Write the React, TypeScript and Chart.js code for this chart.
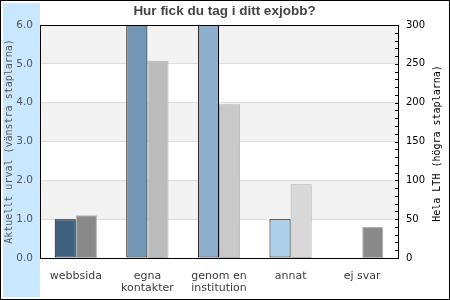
import React, { useEffect, useRef } from 'react';
import { Chart, registerables } from 'chart.js';

Chart.register(...registerables);

const chartTitle = 'Hur fick du tag i ditt exjobb?';
const categories: (string | string[])[] = ['webbsida', ['egna', 'kontakter'], ['genom en', 'institution'], 'annat', 'ej svar'];
const currentValues = [1, 8, 7, 1, 0];
const lthValues = [55, 254, 198, 95, 40];
const currentColors = ['#406080', '#7396b4', '#8fb0cc', '#aecfea', '#aecfea'];
const lthColors = ['#898989', '#bcbcbc', '#c9c9c9', '#d8d8d8', '#898989'];
const leftTitle = 'Aktuellt urval (vänstra staplarna)';
const rightTitle = 'Hela LTH (högra staplarna)';
const leftMax = 6;
const rightMax = 300;
const rightStep = 50;
const rightMinorStep = 10;

const framePlugin = {
  id: 'frame',
  beforeDraw(chart: any) {
    const { ctx, chartArea, scales } = chart;
    const W = chart.width;
    const H = chart.height;
    ctx.save();
    ctx.fillStyle = '#ffffff';
    ctx.fillRect(0, 0, W, H);
    ctx.fillStyle = '#c9e7ff';
    ctx.fillRect(3, 3, chartArea.left - 3, H - 6);
    const y = scales.y;
    ctx.fillStyle = '#f2f2f2';
    for (let v = 1; v < leftMax; v += 2) {
      const top = Math.round(y.getPixelForValue(v + 1));
      const bot = Math.round(y.getPixelForValue(v));
      ctx.fillRect(chartArea.left, top, chartArea.right - chartArea.left, bot - top);
    }
    ctx.strokeStyle = '#000';
    ctx.lineWidth = 1;
    ctx.strokeRect(0.5, 0.5, W - 1, H - 1);
    ctx.restore();
  },
  afterDraw(chart: any) {
    const { ctx, chartArea, scales } = chart;
    ctx.save();
    ctx.strokeStyle = '#000';
    ctx.lineWidth = 1;
    const t = Math.round(chartArea.top) + 0.5;
    ctx.beginPath();
    ctx.moveTo(chartArea.left, t);
    ctx.lineTo(chartArea.right, t);
    const r = scales.y1;
    const x = Math.round(chartArea.right);
    for (let v = 0; v <= rightMax; v += rightMinorStep) {
      const py = Math.round(r.getPixelForValue(v)) + 0.5;
      ctx.moveTo(x - 3, py);
      ctx.lineTo(x, py);
    }
    ctx.stroke();
    // right axis title, reading bottom-to-top
    ctx.translate(r.right - 9, (chartArea.top + chartArea.bottom) / 2 + 2);
    ctx.rotate(-Math.PI / 2);
    ctx.fillStyle = '#000';
    ctx.font = '10px "DejaVu Sans Mono"';
    ctx.textAlign = 'center';
    ctx.textBaseline = 'middle';
    ctx.fillText(rightTitle, 0, 0);
    ctx.restore();
  },
};

export default function App() {
  const ref = useRef<HTMLCanvasElement | null>(null);
  useEffect(() => {
    if (!ref.current) return;
    const chart = new Chart(ref.current, {
      type: 'bar',
      data: {
        labels: categories,
        datasets: [
          {
            data: currentValues,
            yAxisID: 'y',
            backgroundColor: currentColors,
            borderColor: '#000',
            borderWidth: 1,
            borderSkipped: false,
            categoryPercentage: 0.59,
            barPercentage: 1,
          },
          {
            data: lthValues,
            yAxisID: 'y1',
            backgroundColor: lthColors,
            borderColor: '#b4b4b4',
            borderWidth: 1,
            borderSkipped: false,
            categoryPercentage: 0.59,
            barPercentage: 1,
          },
        ],
      },
      options: {
        responsive: false,
        animation: false,
        layout: { padding: { left: 3, right: 4, top: 0, bottom: 3 } },
        plugins: {
          legend: { display: false },
          tooltip: { enabled: false },
          title: {
            display: true,
            text: chartTitle,
            color: '#444',
            font: { family: 'Liberation Sans', size: 13.5, weight: 'bold', lineHeight: '16px' },
            padding: { top: 3, bottom: 6 },
          },
        },
        scales: {
          x: {
            grid: { display: false },
            border: { display: true, color: '#000', width: 1 },
            ticks: {
              color: '#3c3c3c',
              font: { family: 'DejaVu Sans', size: 11, lineHeight: '12px' },
              padding: 4,
              maxRotation: 0,
              autoSkip: false,
            },
            afterFit: (s: any) => { s.height = 39; },
          },
          y: {
            position: 'left',
            min: 0,
            max: leftMax,
            grid: { color: '#dddddd', drawTicks: false },
            border: { display: true, color: '#000', width: 1 },
            ticks: {
              stepSize: 1,
              color: '#555',
              padding: 7,
              font: { family: 'DejaVu Sans', size: 10.5 },
              callback: (v: any) => Number(v).toFixed(1),
            },
            title: {
              display: true,
              text: leftTitle,
              color: '#555',
              font: { family: 'DejaVu Sans Mono', size: 10 },
              padding: { top: 0, bottom: 0 },
            },
            afterFit: (s: any) => { s.width = 37; },
          },
          y1: {
            position: 'right',
            min: 0,
            max: rightMax,
            grid: { display: false, drawTicks: false },
            border: { display: true, color: '#000', width: 1 },
            ticks: {
              stepSize: rightStep,
              color: '#000',
              padding: 8,
              font: { family: 'DejaVu Sans', size: 10 },
            },
            afterFit: (s: any) => { s.width = 48; },
          },
        },
      },
      plugins: [framePlugin],
    });
    return () => chart.destroy();
  }, []);
  return (
    <div style={{ position: 'absolute', left: 0, top: 0, width: 450, height: 300 }}>
      <canvas ref={ref} width={450} height={300} style={{ display: 'block' }} />
    </div>
  );
}
